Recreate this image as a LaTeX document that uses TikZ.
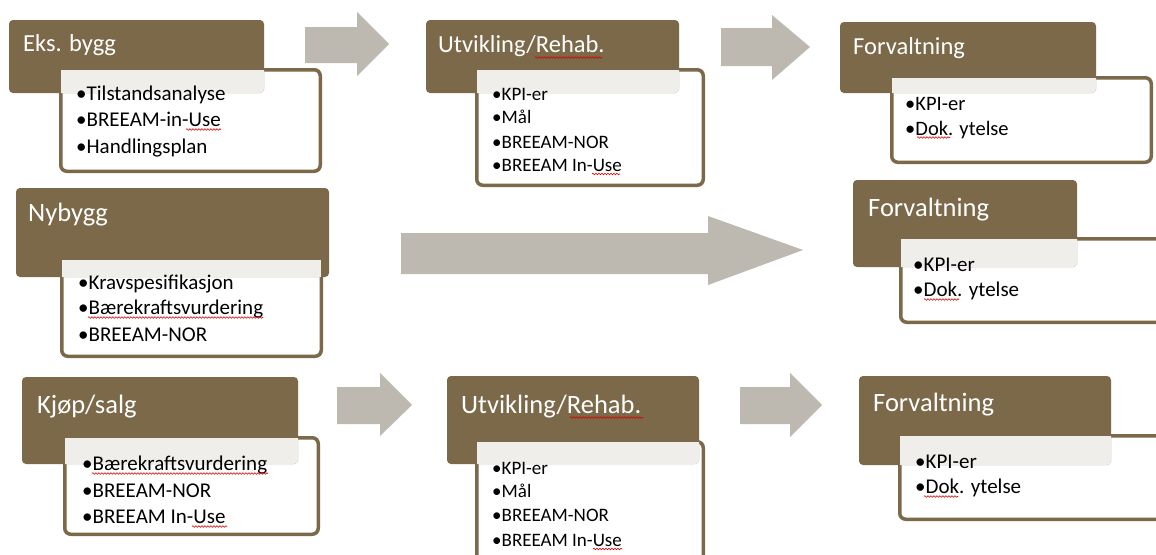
\documentclass[tikz,border=0pt]{standalone}
\usepackage{fontspec}
\setmainfont{Carlito}
\usetikzlibrary{fit,decorations.pathmorphing}
\definecolor{brn}{HTML}{7B6949}
\definecolor{arr}{HTML}{BDB8B0}
\tikzset{
  brownbox/.style={fill=brn, rounded corners=4pt, inner sep=0pt, outer sep=0pt},
  listbox/.style={draw=brn, line width=3.5pt, fill=white, rounded corners=6pt, inner sep=0pt, outer sep=0pt},
  titleA/.style={text=white, anchor=base west, inner sep=0pt, font=\fontsize{24.5}{29}\selectfont},
  titleB/.style={text=white, anchor=base west, inner sep=0pt, font=\fontsize{26.5}{31}\selectfont},
  itemA/.style={text=black, anchor=base west, inner sep=0pt, font=\fontsize{21}{25}\selectfont},
  itemB/.style={text=black, anchor=base west, inner sep=0pt, font=\fontsize{19}{23}\selectfont},
  itemC/.style={text=black, anchor=base west, inner sep=0pt, font=\fontsize{20.5}{24}\selectfont},
  blockarrow/.style={fill=arr},
  squiggle/.style={draw=red!85!black, line width=0.6pt, decorate, decoration={snake, segment length=3pt, amplitude=0.8pt}}
}
\newcommand\grp[9]{%
  \node[listbox, fit={(#6+1.75,#7+1.75) (#8-1.75,#9-1.75)}] (#1w) {};
  \node[brownbox, fit={(#2,#3) (#4,#5)}] (#1b) {};
  \begin{scope}
    \clip[rounded corners=4pt] (#1b.north west) rectangle (#1b.south east);
    \fill[white, opacity=0.89] (#1w.north west) rectangle (#1w.south east);
  \end{scope}
}
\newcommand\barrow[8]{%
  \fill[blockarrow] (#1,#5) -- (#2,#5) -- (#2,#7) -- (#3,#4) -- (#2,#8) -- (#2,#6) -- (#1,#6) -- cycle;
}
\newcommand\sq[3]{\draw[squiggle] (#1,#3) -- (#2,#3);}
\begin{document}
\begin{tikzpicture}[x=1pt,y=-1pt]
\useasboundingbox (0,0) rectangle (1156,554);
\clip (0,0) rectangle (1156,554);
\fill[white] (0,0) rectangle (1156,554);

% arrows
\barrow{305}{357}{389}{44}{27}{63}{12}{76}
\barrow{721}{772}{810}{47}{28}{66}{15}{80}
\barrow{401}{708}{803}{250}{233}{274}{216}{285}
\barrow{337}{380}{412}{405}{387}{424}{373}{436}
\barrow{740}{790}{822}{405}{387}{424}{373}{437}

% row 1
\grp{a1}{9}{20}{264}{93}{59}{68}{322}{173}
\node[titleA] (a1t) at (23,51.8) {Eks. bygg};
\node[itemA] (a1i1) at (76,100.7) {•Tilstandsanalyse};
\node[itemA] (a1i2) at (76,126.7) {•BREEAM-in-Use};
\node[itemA] (a1i3) at (76,153.7) {•Handlingsplan};

\grp{b1}{426}{20}{679}{93}{475}{68}{705}{187}
\node[titleA] (b1t) at (438,52.8) {Utvikling/Rehab.};
\node[itemB] (b1i1) at (492,100.1) {•KPI-er};
\node[itemB] (b1i2) at (492,123.1) {•Mål};
\node[itemB] (b1i3) at (492,148.1) {•BREEAM-NOR};
\node[itemB] (b1i4) at (492,171.1) {•BREEAM In-Use};

\grp{c1}{840}{22}{1096}{93}{890}{76}{1153}{164}
\node[titleA] (c1t) at (853,54.8) {Forvaltning};
\node[itemC] (c1i1) at (905,110.5) {•KPI-er};
\node[itemC] (c1i2) at (905,135.5) {•Dok. ytelse};

% row 2
\grp{a2}{16}{188}{329}{277}{60}{258}{323}{358}
\node[titleB] (a2t) at (28,221.5) {Nybygg};
\node[itemA] (a2i1) at (78,289.7) {•Kravspesifikasjon};
\node[itemA] (a2i2) at (78,314.7) {•Bærekraftsvurdering};
\node[itemA] (a2i3) at (78,341.7) {•BREEAM-NOR};

\grp{c2}{853}{180}{1077}{267}{899}{237}{1200}{324}
\node[titleB] (c2t) at (868,216.5) {Forvaltning};
\node[itemA] (c2i1) at (913,271.7) {•KPI-er};
\node[itemA] (c2i2) at (913,296.7) {•Dok. ytelse};

% row 3
\grp{a3}{22}{377}{298}{464}{63}{436}{320}{536}
\node[titleB] (a3t) at (37,413.5) {Kjøp/salg};
\node[itemA] (a3i1) at (82,470.7) {•Bærekraftsvurdering};
\node[itemA] (a3i2) at (82,497.7) {•BREEAM-NOR};
\node[itemA] (a3i3) at (82,523.7) {•BREEAM In-Use};

\grp{b3}{447}{376}{699}{464}{475}{440}{705}{600}
\node[titleB] (b3t) at (461,413.5) {Utvikling/Rehab.};
\node[itemB] (b3i1) at (492,474.1) {•KPI-er};
\node[itemB] (b3i2) at (492,497.1) {•Mål};
\node[itemB] (b3i3) at (492,521.1) {•BREEAM-NOR};
\node[itemB] (b3i4) at (492,546.1) {•BREEAM In-Use};

\grp{c3}{859}{376}{1111}{465}{898}{434}{1200}{521}
\node[titleB] (c3t) at (873,411.5) {Forvaltning};
\node[itemA] (c3i1) at (915,468.7) {•KPI-er};
\node[itemA] (c3i2) at (915,493.7) {•Dok. ytelse};

% spell-check underlines
\sq{535}{602}{57.5}
\sq{570}{643}{417.5}
\sq{186}{221}{129.5}
\sq{592}{620}{174}
\sq{192}{227}{526.5}
\sq{593}{622}{549}
\sq{917}{950}{137.5}
\sq{924}{959}{299.5}
\sq{924}{958}{496.5}
\sq{88}{263}{317.5}
\sq{92}{268}{473.5}
\end{tikzpicture}
\end{document}
